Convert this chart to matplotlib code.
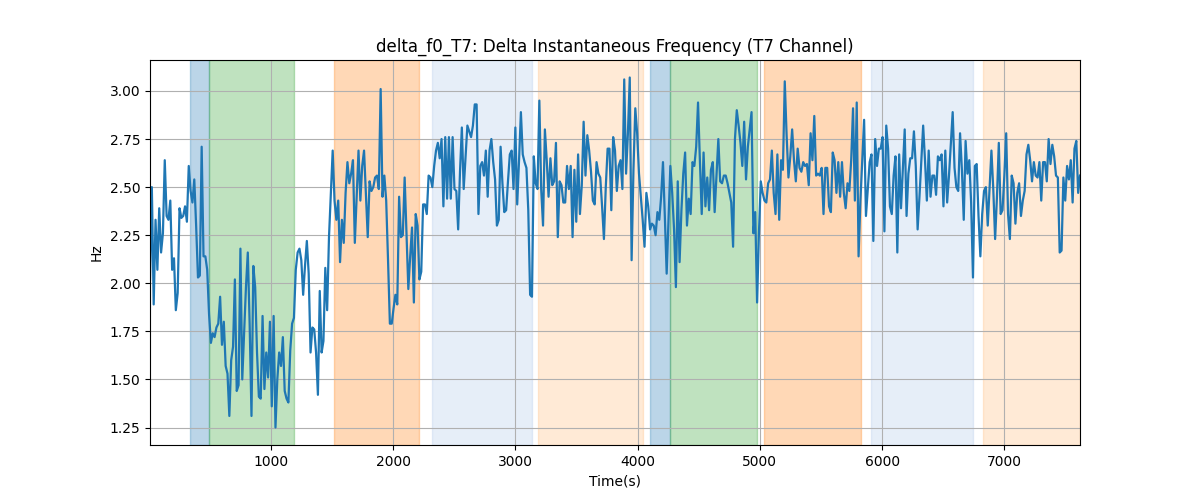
import numpy as np
import matplotlib
matplotlib.use("Agg")
import matplotlib.pyplot as plt

# Time range of the samples (seconds)
t_start = 12
t_end = 7619

# Delta f0 values (Hz), read left to right
seg1 = [2.02, 2.50, 1.89, 2.33, 2.07, 2.39, 2.16, 2.26, 2.64, 2.35,
        2.33, 2.43, 2.07, 2.13, 1.86, 1.95, 2.39, 2.34, 2.35, 2.40,
        2.32, 2.61, 2.48, 2.42, 2.54, 2.30, 2.03, 2.04, 2.71, 2.14,
        2.14, 2.07, 1.84, 1.69, 1.74, 1.72, 1.77, 1.79, 1.93, 1.68,
        1.80, 1.57, 1.53, 1.31, 1.60, 1.67, 2.02, 1.44, 1.47, 2.18,
        1.50, 1.74, 1.98, 2.16, 1.79, 1.31, 2.09, 1.98, 1.64, 1.41,
        1.40, 1.83, 1.45]
seg2 = [1.64, 1.51, 1.80, 1.36, 1.83, 1.25, 1.50, 1.64, 1.57, 1.72,
        1.44, 1.40, 1.38, 1.65, 1.79, 1.82, 2.07, 2.16, 2.18, 2.12,
        1.94, 2.09, 2.22, 2.05, 1.64, 1.77, 1.76, 1.64, 1.42, 1.96,
        1.64, 1.70, 2.08, 1.86, 2.24, 2.47, 2.69, 2.43, 2.33, 2.43,
        2.11, 2.33, 2.21, 2.47, 2.63, 2.52, 2.57, 2.64, 2.21, 2.45,
        2.69, 2.43, 2.61, 2.69, 2.47, 2.24, 2.53, 2.48, 2.50, 2.55,
        2.56, 2.49, 3.01]
seg3 = [2.45, 2.56, 2.43, 2.12, 1.79, 1.79, 1.87, 1.94, 1.89, 2.45,
        2.24, 2.25, 2.55, 2.26, 1.97, 2.14, 2.29, 1.90, 2.36, 2.30,
        2.02, 2.06, 2.41, 2.41, 2.36, 2.56, 2.55, 2.50, 2.61, 2.69,
        2.73, 2.65, 2.75, 2.40, 2.76, 2.44, 2.76, 2.44, 2.76, 2.49,
        2.48, 2.28, 2.58, 2.81, 2.49, 2.66, 2.82, 2.79, 2.76, 2.82,
        2.93, 2.93, 2.36, 2.61, 2.63, 2.56, 2.69, 2.45, 2.69, 2.75,
        2.63, 2.54, 2.30]
seg4 = [2.33, 2.71, 2.52, 2.37, 2.38, 2.53, 2.67, 2.69, 2.49, 2.81,
        2.41, 2.64, 2.89, 2.67, 2.63, 2.60, 2.38, 1.94, 1.93, 2.66,
        2.52, 2.49, 2.95, 2.49, 2.30, 2.80, 2.64, 2.45, 2.65, 2.51,
        2.53, 2.73, 2.24, 2.53, 2.51, 2.42, 2.42, 2.61, 2.49, 2.61,
        2.24, 2.59, 2.32, 2.67, 2.36, 2.51, 2.84, 2.56, 2.77, 2.69,
        2.58, 2.43, 2.41, 2.63, 2.57, 2.55, 2.40, 2.23, 2.50, 2.70,
        2.70, 2.38, 2.76]
seg5 = [2.69, 2.48, 2.61, 2.64, 2.49, 3.06, 2.57, 2.78, 3.07, 2.12,
        2.59, 2.91, 2.78, 2.57, 2.45, 2.33, 2.19, 2.47, 2.40, 2.28,
        2.31, 2.30, 2.25, 2.37, 2.33, 2.45, 2.63, 2.35, 2.05, 2.33,
        2.61, 2.47, 2.28, 1.98, 2.53, 2.11, 2.38, 2.57, 2.68, 2.30,
        2.44, 2.36, 2.63, 2.61, 2.71, 2.94, 2.64, 2.36, 2.68, 2.40,
        2.55, 2.38, 2.59, 2.63, 2.37, 2.56, 2.75, 2.53, 2.52, 2.56,
        2.56, 2.52, 2.47, 2.42]
seg6 = [2.19, 2.75, 2.90, 2.82, 2.73, 2.61, 2.84, 2.54, 2.71, 2.80,
        2.89, 2.26, 2.37, 1.90, 2.26, 2.53, 2.47, 2.43, 2.42, 2.52,
        2.54, 2.69, 2.47, 2.36, 2.67, 2.33, 2.64, 2.59, 3.05, 2.77,
        2.55, 2.66, 2.80, 2.64, 2.53, 2.70, 2.60, 2.58, 2.63, 2.61,
        2.62, 2.51, 2.78, 2.64, 2.87, 2.56, 2.57, 2.56, 2.60, 2.36,
        2.60, 2.60, 2.40, 2.37, 2.68, 2.64, 2.47, 2.63, 2.45, 2.63,
        2.47, 2.39, 2.52, 2.48]
seg7 = [2.64, 2.91, 2.43, 2.94, 2.14, 2.43, 2.64, 2.85, 2.35, 2.49,
        2.63, 2.67, 2.22, 2.75, 2.61, 2.70, 2.70, 2.76, 2.27, 2.82,
        2.70, 2.40, 2.36, 2.56, 2.66, 2.16, 2.67, 2.39, 2.59, 2.80,
        2.35, 2.57, 2.65, 2.65, 2.79, 2.61, 2.28, 2.45, 2.64, 2.82,
        2.64, 2.43, 2.69, 2.45, 2.56, 2.56, 2.46, 2.66, 2.64, 2.67,
        2.40, 2.69, 2.42, 2.56, 2.73, 2.89, 2.60, 2.50, 2.48, 2.78,
        2.59, 2.33, 2.74, 2.57]
seg8 = [2.64, 2.42, 2.03, 2.61, 2.62, 2.35, 2.14, 2.36, 2.48, 2.50,
        2.30, 2.50, 2.69, 2.49, 2.23, 2.45, 2.73, 2.36, 2.38, 2.56,
        2.78, 2.36, 2.23, 2.56, 2.52, 2.31, 2.47, 2.52, 2.35, 2.43,
        2.48, 2.67, 2.72, 2.64, 2.53, 2.63, 2.56, 2.55, 2.63, 2.43,
        2.63, 2.63, 2.53, 2.75, 2.62, 2.72, 2.66, 2.56, 2.55, 2.16,
        2.17, 2.55, 2.43, 2.61, 2.54, 2.64, 2.42, 2.70, 2.74, 2.47,
        2.56]

# Shaded intervals (start, end, colour)
span_starts = [339, 497, 1517, 2321, 3183, 4102, 4268, 5035, 5910, 6826]
span_ends = [497, 1187, 2210, 3134, 4047, 4268, 4977, 5826, 6742, 7619]
span_colors = ["#1f77b4", "#2ca02c", "#ff7f0e", "#aec7e8", "#ffbb78",
               "#1f77b4", "#2ca02c", "#ff7f0e", "#aec7e8", "#ffbb78"]

values = np.array(seg1 + seg2 + seg3 + seg4 + seg5 + seg6 + seg7 + seg8)
times = np.linspace(t_start, t_end, len(values))

fig, ax = plt.subplots(figsize=(12, 5), dpi=100)
for s, e, c in zip(span_starts, span_ends, span_colors):
    ax.axvspan(s, e, color=c, alpha=0.3)
ax.plot(times, values, color="#1f77b4", linewidth=1.6)
ax.set_xlim(t_start, t_end)
ax.set_title("delta_f0_T7: Delta Instantaneous Frequency (T7 Channel)")
ax.set_xlabel("Time(s)")
ax.set_ylabel("Hz")
ax.grid(True)
fig.savefig("out.png")
